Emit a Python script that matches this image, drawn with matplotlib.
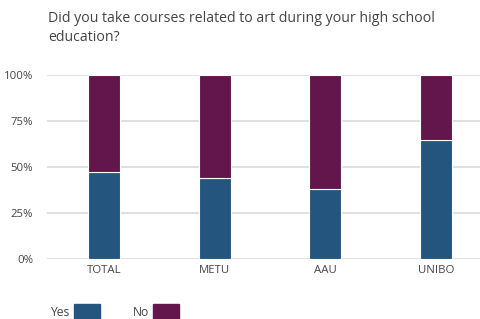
import matplotlib
matplotlib.use("Agg")
import matplotlib.pyplot as plt
from matplotlib.patches import Rectangle

categories = ["TOTAL", "METU", "AAU", "UNIBO"]
yes_pct = [47.3, 43.8, 38.0, 64.6]
no_pct = [100 - v for v in yes_pct]
tick_vals = [0, 25, 50, 75, 100]
tick_labels = ["0%", "25%", "50%", "75%", "100%"]

BLUE = "#24557e"
PURPLE = "#63164b"
TXT = "#444444"

plt.rcParams['font.family'] = ['Open Sans', 'DejaVu Sans']

W, H = 481, 319
fig = plt.figure(figsize=(W / 100, H / 100), dpi=100)
ax = fig.add_axes([47 / W, 1 - 259 / H, (481 - 47) / W, (259 - 75) / H])

x = list(range(len(categories)))
ax.bar(x, yes_pct, width=0.29, color=BLUE, edgecolor="white", linewidth=0.8, zorder=3)
ax.bar(x, no_pct, bottom=yes_pct, width=0.29, color=PURPLE, edgecolor="white", linewidth=0.8, zorder=3)

ax.set_xlim(-0.515, 3.407)
ax.set_ylim(0, 100)
ax.set_yticks(tick_vals)
ax.set_yticklabels(tick_labels)
ax.set_xticks(x)
ax.set_xticklabels(categories)
ax.yaxis.grid(True, color="#dddddd", linewidth=1.3, zorder=0)
ax.set_axisbelow(True)
for s in ax.spines.values():
    s.set_visible(False)
ax.tick_params(axis="both", length=0, labelsize=8.2, colors=TXT)
ax.tick_params(axis="y", pad=10)
ax.tick_params(axis="x", pad=4)

fig.text(48 / W, 1 - 28 / H, "Did you take courses related to art during your high school\neducation?",
         fontsize=10.2, color=TXT, va="center", ha="left", linespacing=1.4)

# legend
fig.text(50 / W, 1 - 312 / H, "Yes", fontsize=8.7, color=TXT, va="center", ha="left")
fig.patches.append(Rectangle((74 / W, 1 - 319 / H), 26 / W, 15 / H, transform=fig.transFigure,
                             color=BLUE, figure=fig))
fig.text(133 / W, 1 - 312 / H, "No", fontsize=8.7, color=TXT, va="center", ha="left")
fig.patches.append(Rectangle((153 / W, 1 - 319 / H), 26 / W, 15 / H, transform=fig.transFigure,
                             color=PURPLE, figure=fig))

fig.savefig("out.png", dpi=100, facecolor="white")
